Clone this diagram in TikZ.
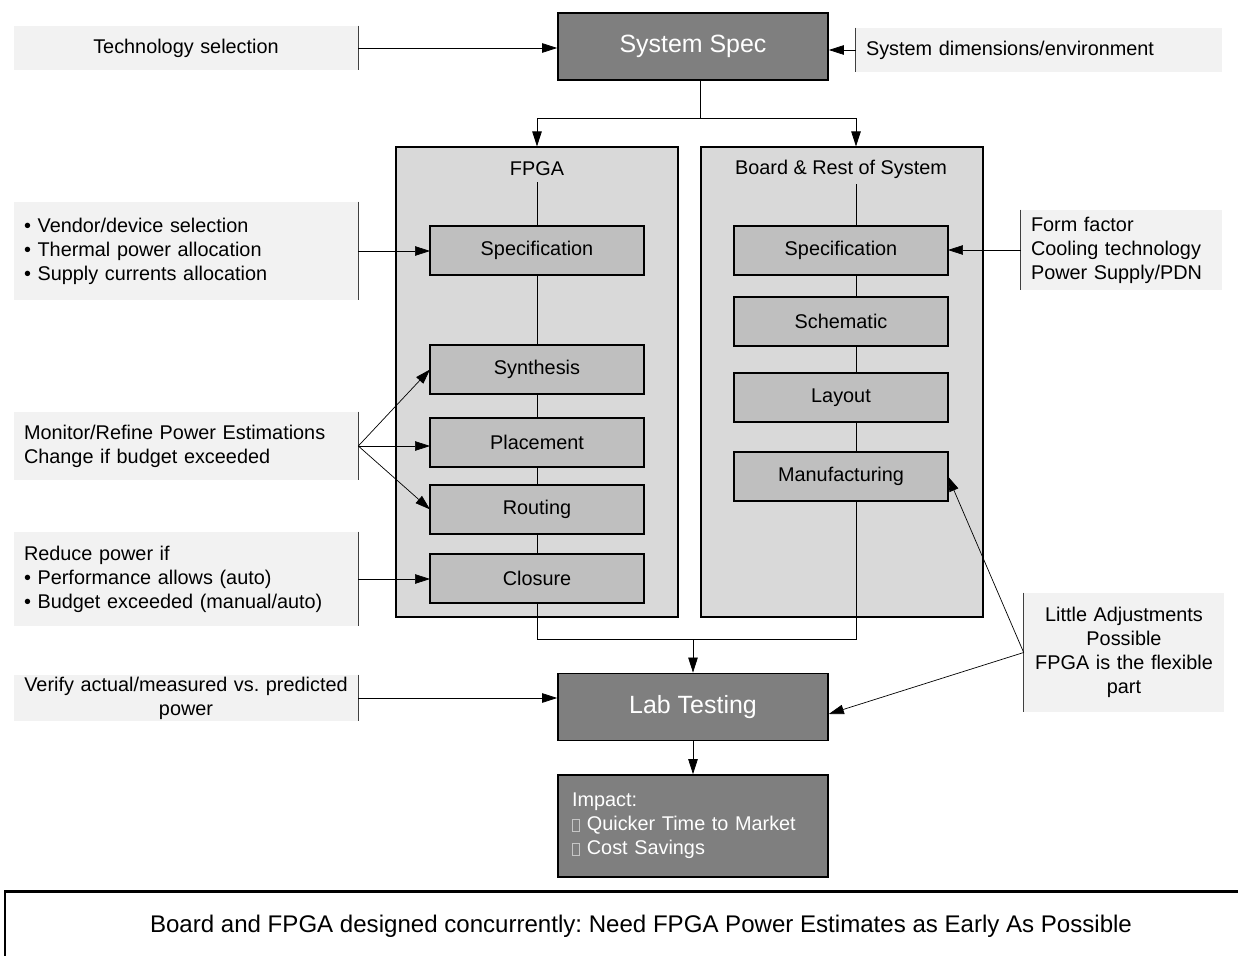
\documentclass[tikz,border=0pt]{standalone}
\usepackage{fontspec}
\setmainfont{Liberation Sans}
\usetikzlibrary{arrows.meta,positioning}
\definecolor{specgray}{HTML}{7F7F7F}
\definecolor{panelgray}{HTML}{D9D9D9}
\definecolor{stagegray}{HTML}{BFBFBF}
\definecolor{notegray}{HTML}{F2F2F2}
\definecolor{bargray}{HTML}{404040}
\frenchspacing
\newcommand{\normtext}{\fontsize{11.3pt}{13.66pt}\selectfont}
\newcommand{\bigtext}{\fontsize{14.2pt}{17pt}\selectfont}
\newcommand{\foottext}{\fontsize{13.7pt}{16pt}\selectfont}
\newcommand{\missingbox}{\textcolor{gray!45}{\fboxsep=0pt\fboxrule=0.5pt\fbox{\rule{0pt}{0.22cm}\hspace{0.13cm}}}}
\tikzset{>={Triangle[length=0.3cm,width=0.19cm]},semithick}
\tikzset{spec box/.style={draw,line width=1pt,fill=specgray,text=white,font=\bigtext,minimum width=5.4cm,minimum height=1.34cm}}
\tikzset{panel box/.style={draw,line width=0.7pt,fill=panelgray,minimum width=5.64cm,minimum height=9.4cm}}
\tikzset{stage box/.style={draw,line width=0.9pt,fill=stagegray,outer sep=0pt,minimum width=4.28cm,minimum height=0.98cm}}
\tikzset{note box/.style={fill=notegray,inner xsep=0.2cm,inner ysep=0pt,align=left}}
\tikzset{note bar/.style={line width=0.7pt,bargray}}

\begin{document}
\begin{tikzpicture}[x=0.02cm,y=-0.02cm,font=\normtext]
	\useasboundingbox (0,0) rectangle (1238,956);
	\node[spec box] (sysspec) at (693,46.5) {System Spec};
	\node[spec box] (lab) at (693,707) {Lab Testing};
	\node[spec box,font=\normtext,minimum height=2.04cm,text width=4.84cm,align=left] (impact) at (693,826)
		{Impact:\\\missingbox{} Quicker Time to Market\\\missingbox{} Cost Savings};
	% the two design tracks
	\node[panel box] (fpga) at (537,382) {};
	\node[panel box] (board) at (842,382) {};
	\node (ftitle) at (537,169) {FPGA};
	\node (btitle) at (841,169) {Board \& Rest of System};
	\node[stage box] (fspec) at (537,250.5) {Specification};
	\node[stage box] (fsyn) [below=1.4cm of fspec] {Synthesis};
	\node[stage box] (fplace) [below=0.48cm of fsyn] {Placement};
	\node[stage box] (froute) [below=0.36cm of fplace] {Routing};
	\node[stage box] (fclose) [below=0.4cm of froute] {Closure};
	\node[stage box] (bspec) at (841,250.5) {Specification};
	\node[stage box] (bschem) [below=0.44cm of bspec] {Schematic};
	\node[stage box] (blayout) [below=0.54cm of bschem] {Layout};
	\node[stage box] (bmanuf) [below=0.6cm of blayout] {Manufacturing};
	% notes
	\node[note box,text width=6.48cm,minimum height=0.88cm,align=center] (tech) at (186,48) {Technology selection};
	\node[note box,text width=6.92cm,minimum height=0.88cm] (sysdim) at (1039,50) {System dimensions/environment};
	\node[note box,text width=6.48cm,minimum height=1.96cm] (vendor) at (186,251)
		{• Vendor/device selection\\• Thermal power allocation\\• Supply currents allocation};
	\node[note box,text width=6.48cm,minimum height=1.36cm] (monitor) at (186,446)
		{Monitor/Refine Power Estimations\\Change if budget exceeded};
	\node[note box,text width=6.48cm,minimum height=1.88cm] (reduce) at (186,579)
		{Reduce power if\\• Performance allows (auto)\\• Budget exceeded (manual/auto)};
	\node[note box,inner xsep=0.04cm,text width=6.8cm,minimum height=0.92cm,align=center] (verify) at (186,698)
		{Verify actual/measured vs. predicted\\power};
	\node[note box,text width=3.62cm,minimum height=1.6cm] (form) at (1121.5,250)
		{Form factor\\Cooling technology\\Power Supply/PDN};
	\node[note box,inner xsep=0.05cm,text width=3.9cm,minimum height=2.38cm,align=center] (little) at (1124,652.5)
		{Little Adjustments\\Possible\\FPGA is the flexible\\part};
	\foreach \n in {tech,vendor,monitor,reduce,verify}
		\draw[note bar] (\n.north east) -- (\n.south east);
	\foreach \n in {sysdim,form,little}
		\draw[note bar] (\n.north west) -- (\n.south west);
	% connectors
	\coordinate (split) at (700,118);
	\coordinate (bcol) at (856,118);
	\coordinate (merge) at (693,639);
	\draw (sysspec.south -| split) -- (split);
	\draw[->] (split) -| (fpga.north);
	\draw[->] (split) -- (bcol) -- (bcol |- board.north);
	\draw (ftitle) -- (fspec) -- (fsyn) -- (fplace) -- (froute) -- (fclose);
	\foreach \a/\b in {btitle/bspec,bspec/bschem,bschem/blayout,blayout/bmanuf}
		\draw (\a.south -| bcol) -- (\b.north -| bcol);
	\draw (fclose.south) |- (merge);
	\draw (bmanuf.south -| bcol) |- (merge);
	\draw[->] (merge) -- (lab.north);
	\draw[->] (lab.south) -- (impact.north);
	\draw[->] (tech.east) -- (tech.east -| sysspec.west);
	\draw[->] (sysdim.west) -- (sysdim.west -| sysspec.east);
	\draw[->] (vendor.east) -- (vendor.east -| fspec.west);
	\draw[->] (monitor.east) -- (fsyn.west);
	\draw[->] (monitor.east) -- (monitor.east -| fplace.west);
	\draw[->] (monitor.east) -- (froute.west);
	\draw[->] (reduce.east) -- (reduce.east -| fclose.west);
	\draw[->] (verify.east) -- (verify.east -| lab.west);
	\draw[->] (form.west) -- (form.west -| bspec.east);
	\draw[->] (little.west) -- (bmanuf.east);
	\draw[->] (little.west) -- ([yshift=-0.14cm]lab.east);
	% footer
	\begin{scope}
		\clip (0,0) rectangle (1238,956);
		\node[draw,line width=0.9pt,font=\foottext,minimum width=25.44cm,minimum height=1.36cm] (footer) at (641,926)
			{Board and FPGA designed concurrently: Need FPGA Power Estimates as Early As Possible};
		\draw[line width=1.6pt] (footer.north west) -- (footer.north east);
	\end{scope}
\end{tikzpicture}
\end{document}
